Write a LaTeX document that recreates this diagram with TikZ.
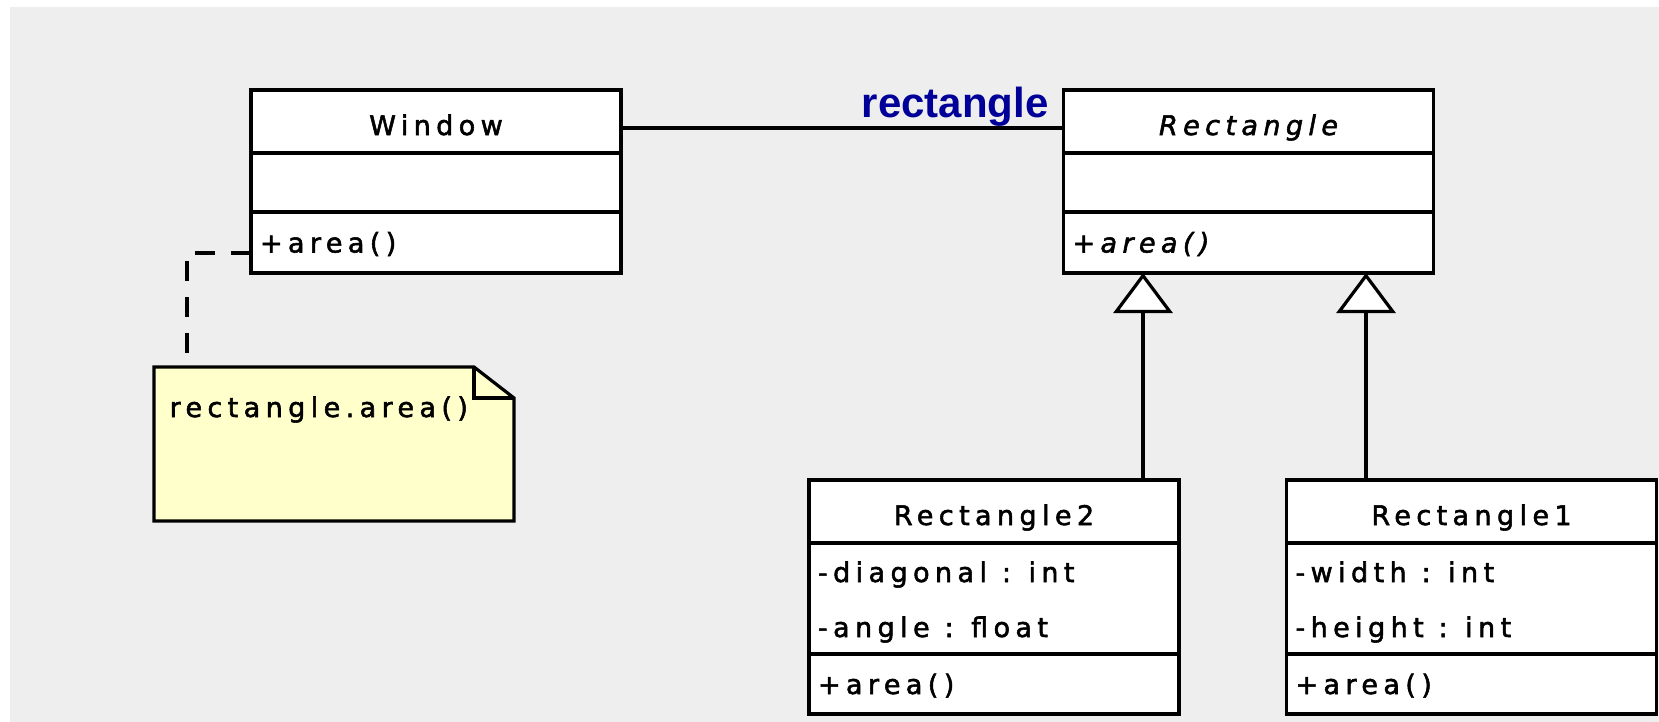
\documentclass[tikz,border=0pt]{standalone}
\usepackage{fontspec}
\usepackage{xcolor}
\usetikzlibrary{positioning,arrows.meta}

\newfontfamily\umlfont[LetterSpace=20, FakeBold=2]{DejaVu Sans}
\newfontfamily\rolefont{Liberation Sans}
\newcommand\typesep{\hspace{0.55em}:\hspace{0.65em}}

\definecolor{canvasgray}{HTML}{EEEEEE}
\definecolor{noteyellow}{HTML}{FFFFCC}
\definecolor{roleblue}{HTML}{000099}

\tikzset{
    classbox/.style={rectangle, draw, fill=white, outer sep=0pt, inner ysep=0pt,
        minimum width=185pt, font=\umlfont\fontsize{13.5pt}{27.5pt}\selectfont},
    classname/.style={classbox, minimum height=31.5pt, text height=13.5pt, text depth=0pt},
    classpart/.style={classbox, inner xsep=4.5pt, text width=176pt, align=left,
        text height=10pt, text depth=0pt},
    attrpart/.style={classpart, text height=14pt, text depth=30.5pt},
    rolelabel/.style={inner sep=0pt, text=roleblue, font=\rolefont\bfseries\fontsize{21pt}{21pt}\selectfont},
    notetext/.style={inner sep=0pt, font=\umlfont\fontsize{13.5pt}{16pt}\selectfont},
    realizes/.style={-{Triangle[length=20pt, width=29.5pt, fill=white]}}
}

\begin{document}
\begin{tikzpicture}[x=0.5pt, y=-0.5pt, line width=1.6pt]
    \fill[white] (0,0) rectangle (1659,722);
    \fill[canvasgray] (10,7) rectangle (1659,722);
    \useasboundingbox (0,0) rectangle (1659,722);

    % Window
    \node[classname] (winname) at (436,121.5) {Window};
    \node[classpart, minimum height=29.5pt, below=0pt of winname] (winattr) {};
    \node[classpart, minimum height=30.5pt, below=0pt of winattr] (winmeth) {+area()};

    % Rectangle (abstract)
    \node[classname] (rectname) at (1248.5,121.5) {\itshape Rectangle};
    \node[classpart, minimum height=29.5pt, below=0pt of rectname] (rectattr) {};
    \node[classpart, minimum height=30.5pt, below=0pt of rectattr] (rectmeth) {\itshape +area()};

    % Rectangle2
    \node[classname] (rtwoname) at (994,511.5) {Rectangle2};
    \node[attrpart, minimum height=55.5pt, below=0pt of rtwoname] (rtwoattr) {-diagonal\typesep int\\-angle\typesep float};
    \node[classpart, minimum height=30pt, below=0pt of rtwoattr] (rtwometh) {+area()};

    % Rectangle1
    \node[classname] (ronename) at (1471.5,511.5) {Rectangle1};
    \node[attrpart, minimum height=55.5pt, below=0pt of ronename] (roneattr) {-width\typesep int\\-height\typesep int};
    \node[classpart, minimum height=30pt, below=0pt of roneattr] (ronemeth) {+area()};

    % association
    \draw ([yshift=-3.25pt]winname.east) -- ([yshift=-3.25pt]winname.east -| rectname.west);
    \node[rolelabel, anchor=base east] (role) at (1050,118) {rectangle};

    % generalization
    \draw[realizes] ([xshift=74.5pt]rtwoname.north) -- ([xshift=74.5pt]rtwoname.north |- rectmeth.south);
    \draw[realizes] ([xshift=-52.75pt]ronename.north) -- ([xshift=-52.75pt]ronename.north |- rectmeth.south);

    % note
    \node[minimum width=180pt, minimum height=77pt, inner sep=0pt, outer sep=0pt] (note) at (334,444) {};
    \draw[fill=noteyellow] (note.north west) -- ([xshift=-20pt]note.north east) -- ([yshift=-15.5pt]note.north east)
        -- (note.south east) -- (note.south west) -- cycle;
    \draw ([xshift=-20pt]note.north east) |- ([yshift=-15.5pt]note.north east);
    \node[notetext, anchor=base west] (notebody) at (168,417) {rectangle.area()};
    \draw[dash pattern=on 10pt off 8pt] ([yshift=-5.25pt]winmeth.west) -| ([xshift=16.5pt]note.north west);
\end{tikzpicture}
\end{document}
